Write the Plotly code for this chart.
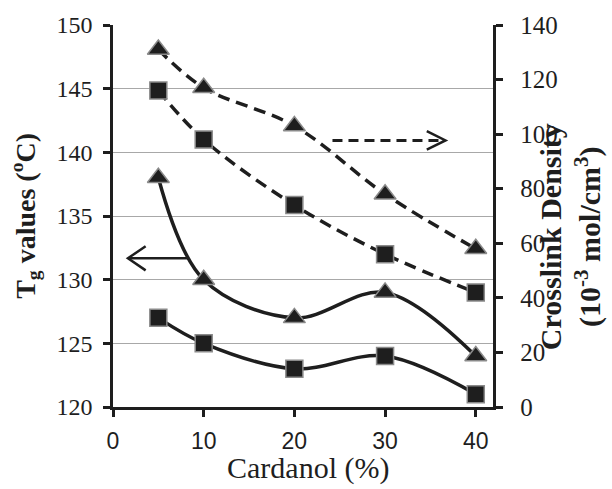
import plotly.graph_objects as go

# ---- data ----
cardanol = [5, 10, 20, 30, 40]
tg_triangle = [138, 130, 127, 129, 124]
tg_square = [127, 125, 123, 124, 121]
xl_triangle = [131, 117, 103, 78, 58]
xl_square = [116, 98, 74, 56, 42]

x_ticks = [0, 10, 20, 30, 40]
tg_ticks = [120, 125, 130, 135, 140, 145, 150]
xl_ticks = [0, 20, 40, 60, 80, 100, 120, 140]

INK = "#1e1e1e"
EDGE = "#8a8a8a"

fig = go.Figure()

def add(y, sym, dash, axis):
    fig.add_trace(go.Scatter(
        x=cardanol, y=y, yaxis=axis, mode="lines+markers",
        line=dict(color=INK, width=3.5, dash=dash, shape="spline", smoothing=1.0),
        marker=dict(symbol=sym, size=17 if sym == "square" else 19, color=INK,
                    line=dict(color=EDGE, width=1.5)),
        showlegend=False, cliponaxis=False))

add(tg_triangle, "triangle-up", "solid", "y")
add(tg_square, "square", "solid", "y")
add(xl_triangle, "triangle-up", "12px,7px", "y2")
add(xl_square, "square", "12px,7px", "y2")

shapes = []
# left-pointing solid arrow (Tg axis)
ya = 131.68
shapes.append(dict(type="line", xref="x", yref="y", x0=1.65, x1=8.3, y0=ya, y1=ya,
                   line=dict(color=INK, width=2.5)))
shapes.append(dict(type="path", xref="x", yref="y",
                   path=f"M 3.6 {ya+0.95} L 1.65 {ya} L 3.6 {ya-0.95}",
                   line=dict(color=INK, width=2.5)))
# right-pointing dashed arrow (crosslink axis)
yb = 97.7
shapes.append(dict(type="line", xref="x", yref="y2", x0=24.2, x1=36.5, y0=yb, y1=yb,
                   line=dict(color=INK, width=3, dash="10px,6px")))
shapes.append(dict(type="path", xref="x", yref="y2",
                   path=f"M 34.6 {yb+3.4} L 36.66 {yb} L 34.6 {yb-3.4}",
                   line=dict(color=INK, width=2.5)))

serif = "Liberation Serif"
annotations = [
    dict(text="Cardanol (%)", xref="paper", yref="paper", x=0.513, y=-0.16,
         xanchor="center", yanchor="middle", showarrow=False,
         font=dict(family=serif, size=30, color=INK)),
    dict(text="<b>T<sub>g</sub> values (<sup>o</sup>C)</b>", xref="paper", yref="paper",
         x=-0.232, y=0.50, textangle=-90, xanchor="center", yanchor="middle",
         showarrow=False, font=dict(family=serif, size=28, color=INK)),
    dict(text="<b>Crosslink Density<br>(10<sup>-3</sup> mol/cm<sup>3</sup>)</b>",
         xref="paper", yref="paper", x=1.203, y=0.445, textangle=-90,
         xanchor="center", yanchor="middle", showarrow=False,
         font=dict(family=serif, size=30, color=INK)),
]

NB = "\u00a0"
fig.update_layout(
    width=612, height=489, autosize=False,
    margin=dict(l=113, r=119, t=21, b=82),
    paper_bgcolor="white", plot_bgcolor="white",
    xaxis=dict(range=[0, 41.9], tickvals=x_ticks, ticktext=[str(v) for v in x_ticks],
               ticks="outside", ticklen=7, tickwidth=2.5, tickcolor=INK,
               showline=True, linewidth=2.5, linecolor=INK, showgrid=False, zeroline=False,
               tickfont=dict(family="Liberation Sans", size=23, color=INK),
               ticklabelstandoff=5),
    yaxis=dict(range=[120, 150], tickvals=tg_ticks,
               ticktext=[str(v) + NB for v in tg_ticks],
               ticks="outside", ticklen=7,
               tickwidth=2.5, tickcolor=INK, showline=True, linewidth=2.5, linecolor=INK,
               showgrid=True, gridcolor="#a8a8a8", gridwidth=1.2, zeroline=False,
               tickfont=dict(family=serif, size=24, color=INK)),
    yaxis2=dict(range=[0, 140], tickvals=xl_ticks,
                ticktext=[NB + NB + str(v) for v in xl_ticks],
                overlaying="y", side="right",
                ticks="outside", ticklen=7, tickwidth=2.5, tickcolor=INK,
                showline=True, linewidth=2.5, linecolor=INK, showgrid=False,
                zeroline=False, tickfont=dict(family=serif, size=25, color=INK)),
    shapes=shapes, annotations=annotations,
)

fig.write_html("out.html")
